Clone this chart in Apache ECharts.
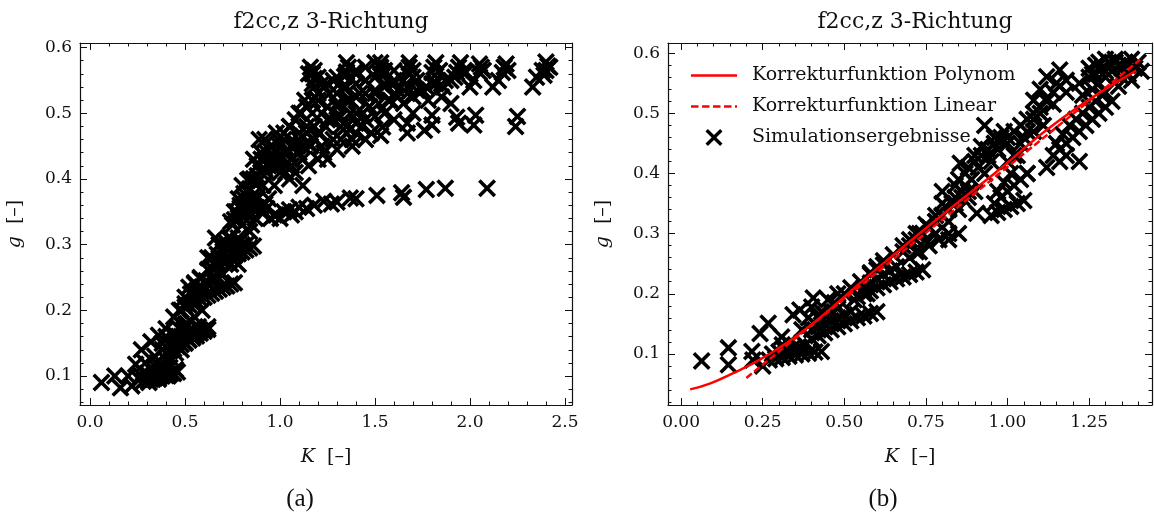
<!DOCTYPE html>
<html><head><meta charset="utf-8">
<script src="https://cdn.jsdelivr.net/npm/echarts@6/dist/echarts.min.js"></script>
<style>html,body{margin:0;padding:0;background:#fff}#c{width:1154px;height:518px}</style>
</head><body><div id="c"></div>
<script>
const chartTitle = 'f2cc,z 3-Richtung';
const captions = ['(a)', '(b)'];
const legendNames = ['Korrekturfunktion Polynom', 'Korrekturfunktion Linear', 'Simulationsergebnisse'];

const leftXMajor = [0, 0.5, 1.0, 1.5, 2.0, 2.5];
const leftXMinor = [0,0.1,0.2,0.3,0.4,0.5,0.6,0.7,0.8,0.9,1.0,1.1,1.2,1.3,1.4,1.5,1.6,1.7,1.8,1.9,2.0,2.1,2.2,2.3,2.4,2.5];
const leftYMajor = [0.1, 0.2, 0.3, 0.4, 0.5, 0.6];
const leftYMinor = [0.06,0.08,0.1,0.12,0.14,0.16,0.18,0.2,0.22,0.24,0.26,0.28,0.3,0.32,0.34,0.36,0.38,0.4,0.42,0.44,0.46,0.48,0.5,0.52,0.54,0.56,0.58,0.6];
const rightXMajor = [0, 0.25, 0.5, 0.75, 1.0, 1.25];
const rightXMinor = [0,0.05,0.1,0.15,0.2,0.25,0.3,0.35,0.4,0.45,0.5,0.55,0.6,0.65,0.7,0.75,0.8,0.85,0.9,0.95,1.0,1.05,1.1,1.15,1.2,1.25,1.3,1.35,1.4];
const rightYMajor = [0.1, 0.2, 0.3, 0.4, 0.5, 0.6];
const rightYMinor = [0.02,0.04,0.06,0.08,0.1,0.12,0.14,0.16,0.18,0.2,0.22,0.24,0.26,0.28,0.3,0.32,0.34,0.36,0.38,0.4,0.42,0.44,0.46,0.48,0.5,0.52,0.54,0.56,0.58,0.6];

// Panel (a): scattered simulation results (K, g)
const leftSparse = [
[0.06,0.09],[0.13,0.1],[0.16,0.082],[0.2,0.1],[0.22,0.085],[0.24,0.118],[0.26,0.095],[0.27,0.14],[0.29,0.12],[0.3,0.1],[0.32,0.152],[0.33,0.095],[0.34,0.13],[0.35,0.105],[0.36,0.162],[0.37,0.1],[0.38,0.14],[0.39,0.105],[0.4,0.172],[0.41,0.1],[0.42,0.15],[0.43,0.105],[0.44,0.19],[0.45,0.11],[0.31,0.09],[0.36,0.095],[0.4,0.11],[0.28,0.105],
[0.45,0.135],[0.46,0.16],[0.47,0.2],[0.48,0.14],[0.5,0.15],[0.5,0.21],[0.51,0.18],[0.52,0.155],[0.53,0.225],[0.54,0.16],[0.55,0.19],[0.56,0.165],[0.57,0.235],[0.58,0.17],[0.59,0.2],[0.6,0.17],[0.61,0.245],[0.62,0.175],[0.49,0.17],[0.55,0.24],[0.58,0.25],[0.43,0.125],
[0.63,0.26],[0.66,0.27],[0.69,0.28],[0.7,0.255],[0.72,0.3],[0.74,0.27],[0.65,0.25],[0.68,0.3],[0.62,0.28],[0.66,0.31],
[0.73,0.31],[0.75,0.33],[0.76,0.29],[0.77,0.35],[0.78,0.31],[0.79,0.36],[0.8,0.33],[0.81,0.37],[0.82,0.3],[0.82,0.35],[0.83,0.38],[0.84,0.32],[0.85,0.36],[0.86,0.4],[0.87,0.34],[0.88,0.42],[0.88,0.37],[0.9,0.44],[0.9,0.35],[0.91,0.39],[0.92,0.46],[0.93,0.41],[0.94,0.37],[0.95,0.45],[0.96,0.43],[0.97,0.39],[0.98,0.47],[0.99,0.42],[1.0,0.45],[0.95,0.34],[0.98,0.345],[0.85,0.33],[0.8,0.3],[0.78,0.27],[0.84,0.4],[0.86,0.43],[0.89,0.46],[0.92,0.43],
[1.02,0.35],[1.05,0.353],[1.08,0.35],[1.1,0.357],[1.14,0.355],[1.18,0.36],[1.23,0.366],[1.27,0.362],[1.3,0.365],[1.37,0.371],[1.4,0.37],[1.51,0.375],[1.64,0.379],[1.65,0.372],[1.77,0.384],[1.87,0.386],[2.09,0.386],[0.93,0.355],[0.97,0.345],[1.0,0.34],[1.06,0.345],
[1.02,0.46],[1.04,0.44],[1.05,0.48],[1.06,0.42],[1.08,0.45],[1.1,0.5],[1.1,0.47],[1.12,0.43],[1.13,0.52],[1.14,0.48],[1.15,0.56],[1.16,0.45],[1.17,0.5],[1.18,0.54],[1.2,0.47],[1.2,0.52],[1.22,0.5],[1.23,0.44],[1.25,0.49],[1.26,0.53],[1.28,0.46],[1.3,0.51],[1.32,0.48],[1.33,0.54],[1.35,0.577],[1.35,0.47],[1.37,0.52],[1.38,0.46],[1.4,0.5],[1.42,0.53],[1.43,0.48],[1.45,0.55],[1.47,0.51],[1.5,0.577],[1.5,0.53],[1.48,0.47],[1.05,0.4],[1.08,0.41],[1.15,0.42],[1.25,0.43],[1.3,0.445],[1.38,0.45],[1.45,0.46],[1.12,0.39],[1.2,0.43],[1.16,0.57],[1.18,0.565],[1.2,0.555],[1.22,0.545],[1.28,0.55],[1.4,0.56],[1.1,0.44],[1.0,0.43],[1.03,0.41],
[1.53,0.577],[1.55,0.565],[1.68,0.577],[1.7,0.565],[1.82,0.577],[1.84,0.565],[1.95,0.577],[1.97,0.565],[2.05,0.575],[2.07,0.565],[2.19,0.575],[2.2,0.565],[2.4,0.578],[2.38,0.565],[2.42,0.57],
[1.55,0.545],[1.6,0.55],[1.62,0.535],[1.67,0.54],[1.72,0.55],[1.75,0.535],[1.8,0.545],[1.86,0.54],[1.9,0.55],[2.0,0.54],[2.02,0.55],[2.12,0.54],[2.15,0.55],[2.33,0.54],[2.35,0.555],[1.58,0.52],[1.65,0.515],[1.7,0.525],[1.78,0.52],[1.85,0.525],[1.9,0.515],
[1.55,0.5],[1.6,0.49],[1.67,0.485],[1.7,0.5],[1.8,0.497],[1.8,0.482],[1.93,0.494],[1.94,0.485],[2.03,0.497],[2.02,0.482],[2.25,0.495],[2.24,0.48],[1.54,0.479],[1.53,0.466],[1.4,0.47],[1.32,0.46],[1.22,0.45],[1.67,0.47],[1.76,0.474]
];
const leftDense = [
[0.28,0.092],[0.3,0.094],[0.32,0.095],[0.34,0.097],[0.36,0.098],[0.38,0.1],[0.4,0.101],[0.42,0.103],[0.44,0.104],[0.46,0.106],[0.3,0.104],[0.33,0.107],[0.36,0.11],[0.39,0.112],[0.42,0.113],[0.27,0.1],[0.35,0.12],[0.4,0.125],
[0.4,0.135],[0.42,0.138],[0.44,0.141],[0.46,0.145],[0.48,0.148],[0.5,0.151],[0.52,0.155],[0.54,0.158],[0.56,0.161],[0.58,0.165],[0.6,0.168],[0.62,0.171],[0.42,0.15],[0.45,0.155],[0.48,0.16],[0.51,0.165],[0.54,0.17],[0.57,0.175],[0.44,0.165],[0.47,0.172],[0.5,0.178],[0.53,0.183],[0.4,0.16],[0.38,0.15],
[0.48,0.2],[0.5,0.205],[0.52,0.208],[0.54,0.211],[0.56,0.214],[0.58,0.217],[0.6,0.22],[0.62,0.223],[0.64,0.226],[0.66,0.229],[0.68,0.232],[0.7,0.235],[0.72,0.237],[0.74,0.24],[0.76,0.242],[0.5,0.22],[0.53,0.225],[0.56,0.23],[0.59,0.235],[0.62,0.24],[0.65,0.245],[0.52,0.235],[0.55,0.242],[0.58,0.248],
[0.62,0.262],[0.64,0.265],[0.66,0.268],[0.68,0.271],[0.7,0.274],[0.72,0.277],[0.74,0.28],[0.76,0.283],[0.78,0.286],[0.8,0.289],[0.82,0.292],[0.84,0.295],[0.86,0.298],[0.64,0.28],[0.67,0.285],[0.7,0.29],[0.73,0.295],[0.76,0.3],[0.79,0.305],[0.68,0.3],[0.71,0.305],[0.74,0.31],
[0.74,0.335],[0.76,0.338],[0.78,0.341],[0.8,0.344],[0.82,0.347],[0.84,0.35],[0.86,0.353],[0.88,0.356],[0.9,0.359],[0.92,0.362],[0.76,0.35],[0.79,0.356],[0.82,0.362],[0.85,0.368],[0.88,0.374],[0.78,0.37],[0.81,0.378],[0.84,0.385],[0.87,0.392],[0.8,0.39],[0.83,0.398],
[0.86,0.4],[0.88,0.405],[0.9,0.41],[0.92,0.415],[0.94,0.42],[0.96,0.425],[0.98,0.43],[1.0,0.435],[1.02,0.44],[1.04,0.445],[1.06,0.45],[1.08,0.455],[1.1,0.46],[1.12,0.465],[1.14,0.47],[1.16,0.475],[1.18,0.48],[0.9,0.43],[0.93,0.44],[0.96,0.45],[0.99,0.46],[1.02,0.47],[1.05,0.48],[1.08,0.49],[1.11,0.5],[1.14,0.51],[1.17,0.52],[1.2,0.53],[1.23,0.54],[1.0,0.41],[1.03,0.42],[1.06,0.43],[1.09,0.44],[1.12,0.45],[1.15,0.455],[1.18,0.46],[1.21,0.47],[1.24,0.48],[1.27,0.49],[1.3,0.495],
[1.25,0.51],[1.3,0.515],[1.35,0.52],[1.4,0.525],[1.45,0.53],[1.5,0.535],[1.55,0.54],[1.6,0.545],[1.65,0.55],[1.7,0.555],[1.3,0.53],[1.35,0.54],[1.4,0.545],[1.45,0.55],[1.5,0.555],[1.55,0.56],[1.6,0.565],[1.25,0.545],[1.3,0.555],[1.35,0.56],[1.4,0.565],[1.45,0.57],[1.32,0.495],[1.37,0.5],[1.42,0.505],[1.47,0.51],[1.52,0.515],[1.57,0.52],[1.62,0.525],[1.67,0.53],[1.72,0.535],[1.77,0.54],[1.82,0.545],[1.87,0.55],[1.92,0.555],[1.97,0.56],[1.4,0.485],[1.45,0.49],[1.5,0.495],[1.35,0.48],
[1.17,0.56],[1.18,0.553],[1.17,0.545],[1.36,0.57],[1.35,0.563],[1.34,0.556],[1.53,0.57],[1.52,0.562],[1.68,0.57],[1.67,0.562],[1.81,0.57],[1.8,0.562],[1.94,0.57],[1.93,0.562],[2.06,0.57],[2.05,0.562],[2.18,0.57],[2.17,0.562],[2.41,0.572],[2.4,0.565],[2.39,0.558]
];

// Panel (b): simulation results and the two correction functions
const rightSparse = [
[0.063,0.088],[0.145,0.11],[0.145,0.082],[0.217,0.104],[0.22,0.09],[0.242,0.134],[0.25,0.08],[0.267,0.151],[0.28,0.1],[0.308,0.128],[0.32,0.105],[0.343,0.165],[0.364,0.173],[0.37,0.14],[0.39,0.16],[0.405,0.193],[0.4,0.178],[0.43,0.17],[0.45,0.19],[0.47,0.185],[0.48,0.2],
[0.5,0.2],[0.52,0.21],[0.55,0.22],[0.58,0.235],[0.6,0.245],[0.62,0.255],[0.65,0.265],[0.68,0.28],[0.7,0.29],[0.73,0.3],[0.53,0.19],[0.57,0.2],
[0.72,0.27],[0.75,0.29],[0.76,0.31],[0.78,0.3],[0.8,0.33],[0.82,0.32],[0.83,0.35],[0.85,0.34],[0.86,0.37],[0.88,0.36],[0.89,0.39],[0.9,0.37],[0.91,0.41],[0.93,0.4],[0.94,0.43],[0.95,0.42],[0.96,0.45],[0.97,0.44],[0.98,0.46],[1.0,0.45],[0.8,0.35],[0.84,0.38],[0.87,0.4],[0.9,0.43],[0.92,0.445],[0.78,0.32],[0.74,0.3],[0.85,0.3],[0.82,0.29],[0.855,0.417],[0.906,0.334],[0.93,0.48],[0.96,0.46],[0.99,0.47],
[1.02,0.43],[1.04,0.45],[1.06,0.47],[1.08,0.49],[1.1,0.5],[1.12,0.52],[1.15,0.55],[1.16,0.572],[1.23,0.53],[1.25,0.56],[1.27,0.58],[1.3,0.57],[1.33,0.585],[1.35,0.575],[1.37,0.58],[1.28,0.585],[1.3,0.59],[1.25,0.575],[1.22,0.55],[1.26,0.565],[1.18,0.535],[1.14,0.515],[1.12,0.561],[1.08,0.522],[1.1,0.54],[1.06,0.4],[1.12,0.41],[1.22,0.42],[1.18,0.43]
];
const rightDense = [
[0.27,0.09],[0.29,0.092],[0.31,0.094],[0.33,0.096],[0.35,0.098],[0.37,0.1],[0.39,0.101],[0.41,0.103],[0.43,0.104],[0.3,0.103],[0.32,0.106],[0.34,0.109],[0.36,0.112],[0.38,0.115],[0.31,0.115],[0.33,0.118],
[0.4,0.125],[0.42,0.13],[0.44,0.135],[0.46,0.14],[0.48,0.145],[0.5,0.15],[0.52,0.155],[0.54,0.16],[0.56,0.163],[0.58,0.167],[0.6,0.17],[0.4,0.14],[0.42,0.145],[0.44,0.15],[0.46,0.155],[0.48,0.16],[0.5,0.165],[0.52,0.17],[0.42,0.16],[0.44,0.165],[0.46,0.17],[0.48,0.175],
[0.54,0.195],[0.56,0.2],[0.58,0.205],[0.6,0.21],[0.62,0.215],[0.64,0.22],[0.66,0.225],[0.68,0.228],[0.7,0.232],[0.72,0.236],[0.74,0.24],[0.56,0.21],[0.58,0.218],[0.6,0.225],[0.62,0.232],[0.64,0.238],[0.66,0.245],[0.58,0.232],[0.6,0.24],[0.62,0.248],
[0.68,0.27],[0.7,0.28],[0.72,0.29],[0.74,0.3],[0.76,0.31],[0.78,0.32],[0.8,0.33],[0.82,0.34],[0.84,0.35],[0.86,0.36],[0.88,0.37],[0.7,0.26],[0.73,0.27],[0.76,0.28],[0.79,0.29],[0.82,0.3],[0.72,0.3],[0.75,0.315],[0.78,0.33],[0.81,0.345],[0.84,0.36],[0.87,0.38],[0.85,0.39],[0.8,0.37],
[0.95,0.33],[0.97,0.335],[0.99,0.34],[1.01,0.345],[1.03,0.35],[1.05,0.355],[0.96,0.35],[0.98,0.36],[1.0,0.37],[1.02,0.38],[1.04,0.39],[1.06,0.4],[0.97,0.37],[0.99,0.385],[1.01,0.4],
[0.88,0.41],[0.9,0.42],[0.92,0.43],[0.94,0.44],[0.96,0.45],[0.98,0.455],[1.0,0.46],[1.02,0.47],[1.04,0.48],[1.06,0.49],[1.08,0.5],[1.1,0.51],[1.12,0.525],[1.14,0.535],[1.16,0.545],[1.18,0.555],[1.05,0.46],[1.08,0.47],[1.11,0.48],[1.0,0.42],[1.03,0.43],
[1.14,0.43],[1.16,0.44],[1.18,0.45],[1.2,0.46],[1.22,0.47],[1.24,0.48],[1.26,0.49],[1.28,0.5],[1.3,0.51],[1.32,0.52],[1.15,0.45],[1.17,0.465],[1.19,0.48],[1.21,0.49],[1.23,0.5],[1.25,0.51],[1.27,0.52],[1.29,0.53],[1.16,0.42],
[1.26,0.54],[1.28,0.55],[1.3,0.56],[1.32,0.57],[1.34,0.58],[1.36,0.585],[1.38,0.59],[1.4,0.585],[1.27,0.565],[1.29,0.575],[1.31,0.585],[1.33,0.59],[1.35,0.56],[1.37,0.565],[1.39,0.575],[1.41,0.57],[1.3,0.535],[1.34,0.545],[1.38,0.555]
];

const polyK = [0.028, 0.09, 0.16, 0.24, 0.32, 0.4, 0.49, 0.57, 0.65, 0.8, 0.96, 1.16, 1.394];
const polyG = [0.041, 0.051, 0.068, 0.09, 0.117, 0.149, 0.19, 0.228, 0.264, 0.331, 0.4, 0.489, 0.571];
const linK = [0.2, 1.406];
const linG = [0.06, 0.589];

const FONT = 'DejaVu Serif';
const INK = '#111';
const XMARK = 'path://M0,14L14,0L50,36L86,0L100,14L64,50L100,86L86,100L50,64L14,100L0,86L36,50Z';
const ICON_SOLID = 'path://M0,0L46,0L46,2.4L0,2.4Z';
const ICON_DASH = 'path://M0,0L7.5,0L7.5,2.4L0,2.4ZM11,0L18.5,0L18.5,2.4L11,2.4ZM22,0L29.5,0L29.5,2.4L22,2.4ZM33,0L40.5,0L40.5,2.4L33,2.4ZM44,0L46,0L46,2.4L44,2.4Z';

function axis(gridIndex, position, min, max, values, len, extra) {
  return Object.assign({
    type: 'value', gridIndex: gridIndex, position: position, min: min, max: max, offset: 0,
    axisLine: { show: false, onZero: false },
    axisTick: { show: true, inside: true, length: len, customValues: values, lineStyle: { color: INK, width: 1 } },
    axisLabel: { show: false },
    splitLine: { show: false }, minorTick: { show: false }, minorSplitLine: { show: false }
  }, extra || {});
}
function frameLine() { return { show: true, onZero: false, lineStyle: { color: INK, width: 1.2 } }; }
function labels(values, digits, margin) {
  return { show: true, customValues: values, margin: margin, fontFamily: FONT, fontSize: 17, color: INK,
           formatter: function (v) { return Number(v).toFixed(digits); } };
}
const nameStyle = { fontFamily: FONT, fontSize: 19, color: INK,
  rich: { i: { fontFamily: FONT, fontSize: 19, fontStyle: 'italic', color: INK } } };

const xAxes = [], yAxes = [];
function buildAxes(g, xr, yr, xMaj, xMin, yMaj, yMin, xDigits) {
  xAxes.push(axis(g, 'bottom', xr[0], xr[1], xMaj, 7, {
    axisLine: frameLine(), axisLabel: labels(xMaj, xDigits, 9),
    name: '{i|K}  [–]', nameLocation: 'middle', nameGap: 43, nameTextStyle: nameStyle }));
  xAxes.push(axis(g, 'bottom', xr[0], xr[1], xMin, 3.5));
  xAxes.push(axis(g, 'top', xr[0], xr[1], xMaj, 7, { axisLine: frameLine() }));
  xAxes.push(axis(g, 'top', xr[0], xr[1], xMin, 3.5));
  yAxes.push(axis(g, 'left', yr[0], yr[1], yMaj, 7, {
    axisLine: frameLine(), axisLabel: labels(yMaj, 1, 8),
    name: '{i|g}  [–]', nameLocation: 'middle', nameGap: 55, nameTextStyle: nameStyle }));
  yAxes.push(axis(g, 'left', yr[0], yr[1], yMin, 3.5));
  yAxes.push(axis(g, 'right', yr[0], yr[1], yMaj, 7, { axisLine: frameLine() }));
  yAxes.push(axis(g, 'right', yr[0], yr[1], yMin, 3.5));
}
buildAxes(0, [-0.053, 2.537], [0.0559, 0.607], leftXMajor, leftXMinor, leftYMajor, leftYMinor, 1);
buildAxes(1, [-0.04, 1.4426], [0.015, 0.617], rightXMajor, rightXMinor, rightYMajor, rightYMinor, 2);

const titleStyle = { fontFamily: FONT, fontSize: 22, fontWeight: 'normal', color: INK };
const capStyle = { fontFamily: 'Liberation Serif', fontSize: 25, fontWeight: 'normal', color: INK };
const option = {
  animation: false,
  backgroundColor: '#fff',
  title: [
    { text: chartTitle, left: 326, top: 6, textAlign: 'center', textStyle: titleStyle },
    { text: chartTitle, left: 910, top: 6, textAlign: 'center', textStyle: titleStyle },
    { text: captions[0], left: 295, top: 482, textAlign: 'center', textStyle: capStyle },
    { text: captions[1], left: 878, top: 482, textAlign: 'center', textStyle: capStyle }
  ],
  legend: {
    data: [
      { name: legendNames[0], icon: ICON_SOLID },
      { name: legendNames[1], icon: ICON_DASH },
      { name: legendNames[2] }
    ],
    orient: 'vertical', left: 686, top: 61,
    itemWidth: 46, itemHeight: 17, itemGap: 12,
    textStyle: { fontFamily: FONT, fontSize: 19, color: INK, padding: [0, 0, 0, 10] },
    backgroundColor: 'transparent', borderWidth: 0
  },
  grid: [
    { left: 80, top: 43, width: 492, height: 362, outerBoundsMode: 'none' },
    { left: 668, top: 43, width: 484, height: 362, outerBoundsMode: 'none' }
  ],
  xAxis: xAxes,
  yAxis: yAxes,
  series: [
    { name: 'left', type: 'scatter', xAxisIndex: 0, yAxisIndex: 0, data: leftSparse.concat(leftDense),
      symbol: XMARK, symbolSize: 18, itemStyle: { color: '#000', opacity: 1 }, z: 2 },
    { name: legendNames[2], type: 'scatter', xAxisIndex: 4, yAxisIndex: 4, data: rightSparse.concat(rightDense),
      symbol: XMARK, symbolSize: 18, itemStyle: { color: '#000', opacity: 1 }, z: 2 },
    { name: legendNames[0], type: 'line', xAxisIndex: 4, yAxisIndex: 4, smooth: true, symbol: 'none',
      data: polyK.map(function (k, i) { return [k, polyG[i]]; }),
      lineStyle: { color: '#ff0000', width: 2.5 }, itemStyle: { color: '#ff0000' }, z: 5 },
    { name: legendNames[1], type: 'line', xAxisIndex: 4, yAxisIndex: 4, symbol: 'none',
      data: linK.map(function (k, i) { return [k, linG[i]]; }),
      lineStyle: { color: '#ff0000', width: 2.5, type: [7, 3] }, itemStyle: { color: '#ff0000' }, z: 5 }
  ]
};
const chart = echarts.init(document.getElementById('c'), null, { renderer: 'canvas' });
chart.setOption(option);
</script>
</body></html>
